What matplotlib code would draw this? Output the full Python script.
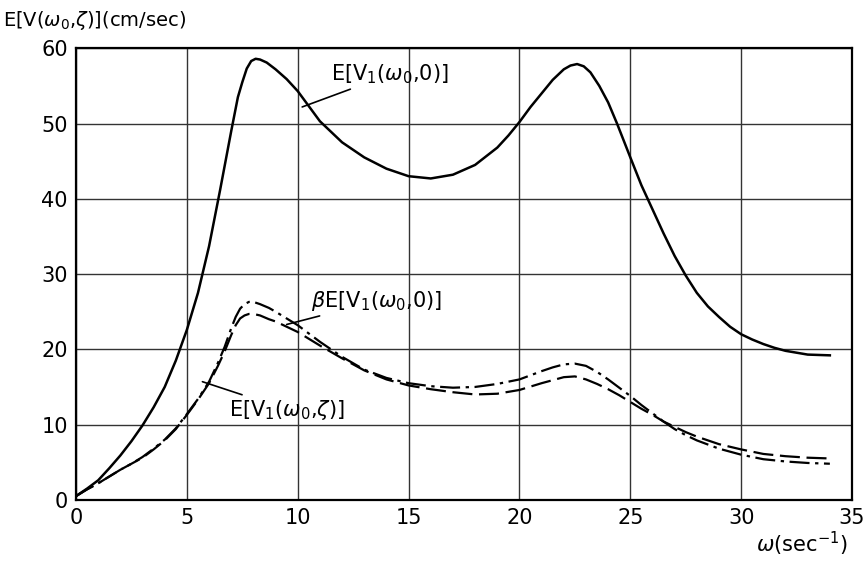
import matplotlib
matplotlib.use("Agg")
import matplotlib.pyplot as plt

# values
omega_solid = [0, 0.5, 1, 1.5, 2, 2.5, 3, 3.5, 4, 4.5, 5, 5.5, 6, 6.5, 7, 7.3, 7.5, 7.7, 7.9, 8.1, 8.3, 8.6,
               9, 9.5, 10, 10.5, 11, 12, 13, 14, 15, 16, 17, 18, 19, 19.5, 20, 20.5, 21, 21.5, 22, 22.3,
               22.6, 22.9, 23.2, 23.6, 24, 24.4, 25, 25.5, 26, 26.5, 27, 27.5, 28, 28.5, 29, 29.5, 30,
               30.5, 31, 31.5, 32, 33, 34]
v_solid = [0.5, 1.5, 2.6, 4.2, 5.9, 7.8, 9.9, 12.3, 15.0, 18.5, 22.6, 27.5, 33.7, 41.2, 49.0, 53.5, 55.5,
           57.3, 58.3, 58.6, 58.5, 58.1, 57.2, 55.9, 54.3, 52.3, 50.3, 47.5, 45.5, 44.0, 43.0, 42.7, 43.2,
           44.5, 46.8, 48.4, 50.2, 52.2, 54.0, 55.8, 57.2, 57.7, 57.9, 57.6, 56.8, 55.0, 52.8, 50.0, 45.5,
           41.8, 38.6, 35.4, 32.4, 29.8, 27.5, 25.7, 24.3, 23.0, 22.0, 21.3, 20.7, 20.2, 19.8, 19.3, 19.2]

omega_low = [0, 0.5, 1, 1.5, 2, 2.5, 3, 3.5, 4, 4.5, 5, 5.5, 6, 6.4, 6.7, 7, 7.2, 7.4, 7.6, 7.8, 8, 8.3,
             8.7, 9, 9.5, 10, 11, 12, 13, 14, 15, 16, 17, 18, 19, 20, 21, 21.5, 22, 22.5, 23, 23.5, 24,
             24.5, 25, 25.5, 26, 26.5, 27, 27.5, 28, 29, 30, 31, 32, 33, 34]
v_beta = [0.5, 1.4, 2.2, 3.1, 4.0, 4.8, 5.7, 6.8, 8.0, 9.5, 11.4, 13.4, 15.7, 18.2, 20.3, 22.8, 24.3, 25.4,
          26.0, 26.3, 26.3, 26.0, 25.5, 25.0, 24.1, 23.2, 21.0, 19.0, 17.3, 16.2, 15.5, 15.1, 14.9, 15.0,
          15.4, 16.0, 17.1, 17.6, 18.0, 18.1, 17.8, 17.0, 16.0, 14.9, 13.8, 12.6, 11.5, 10.4, 9.4, 8.6,
          7.9, 6.8, 6.0, 5.4, 5.1, 4.9, 4.8]
v_zeta = [0.5, 1.4, 2.2, 3.1, 4.0, 4.8, 5.6, 6.7, 7.9, 9.4, 11.3, 13.3, 15.5, 17.8, 19.7, 21.9, 23.2, 24.1,
          24.5, 24.7, 24.7, 24.5, 24.0, 23.7, 23.0, 22.3, 20.5, 18.8, 17.2, 16.0, 15.2, 14.7, 14.3, 14.0,
          14.1, 14.6, 15.5, 15.9, 16.3, 16.4, 16.0, 15.4, 14.7, 13.9, 13.0, 12.1, 11.3, 10.4, 9.7, 9.0,
          8.4, 7.4, 6.7, 6.1, 5.8, 5.6, 5.5]

x_ticks = [0, 5, 10, 15, 20, 25, 30, 35]
y_ticks = [0, 10, 20, 30, 40, 50, 60]

plt.rcParams["mathtext.fontset"] = "dejavusans"

fig = plt.figure(figsize=(8.68, 5.61), dpi=100)
ax = fig.add_axes([0.0876, 0.109, 0.894, 0.805])

ax.plot(omega_solid, v_solid, color="black", linewidth=1.8)
ax.plot(omega_low, v_beta, color="black", linewidth=1.6, dashes=(9, 2.5, 1.5, 2.5))
ax.plot(omega_low, v_zeta, color="black", linewidth=1.6, dashes=(9, 3))

ax.set_xlim(0, 35)
ax.set_ylim(0, 60)
ax.set_xticks(x_ticks)
ax.set_yticks(y_ticks)
ax.tick_params(length=0, labelsize=15, pad=6)
ax.grid(True, color="#333333", linewidth=1.0)
for s in ax.spines.values():
    s.set_linewidth(1.6)
    s.set_color("black")

arrow = dict(arrowstyle="-", color="black", linewidth=1.2, shrinkA=0, shrinkB=0)
ax.annotate(r"E[V$_1$($\omega_0$,0)]", xy=(10.2, 52.2), xytext=(11.5, 56.5),
            fontsize=15, va="center", ha="left", arrowprops=arrow)
ax.annotate(r"$\beta$E[V$_1$($\omega_0$,0)]", xy=(9.5, 23.3), xytext=(10.6, 26.4),
            fontsize=15, va="center", ha="left", arrowprops=arrow)
ax.annotate(r"E[V$_1$($\omega_0$,$\zeta$)]", xy=(5.7, 15.7), xytext=(6.9, 12.0),
            fontsize=15, va="center", ha="left", arrowprops=arrow)

fig.text(0.004, 0.963, r"E[V($\omega_0$,$\zeta$)](cm/sec)", fontsize=14, ha="left", va="center")
fig.text(0.924, 0.03, r"$\omega$(sec$^{-1}$)", fontsize=15, ha="center", va="center")

fig.savefig("out.png", dpi=100)
